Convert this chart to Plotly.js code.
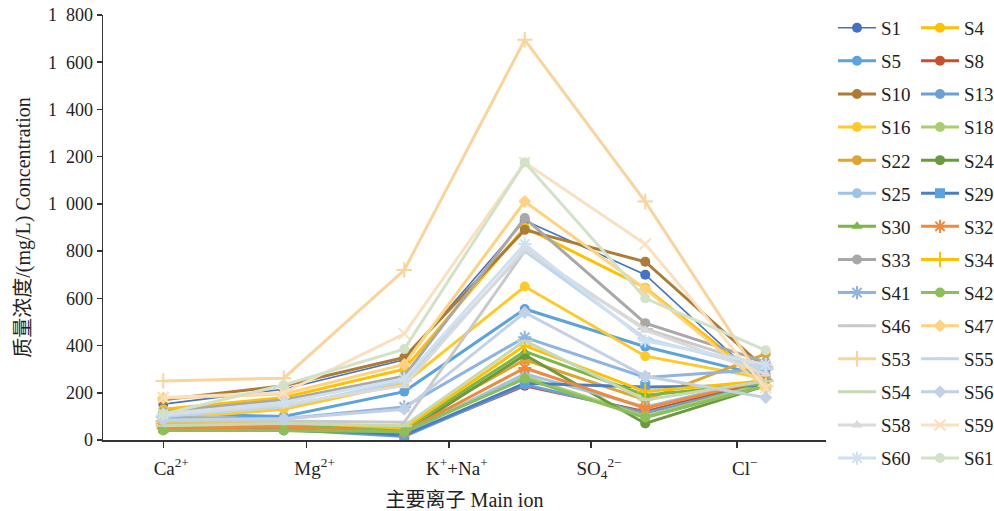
<!DOCTYPE html>
<html>
<head>
<meta charset="utf-8">
<script src="https://cdn.plot.ly/plotly-3.0.1.min.js"></script>
<style>html,body{margin:0;padding:0;background:#fff;}#chart{width:994px;height:511px;}</style>
</head>
<body>
<div id="chart"></div>
<script>
// six sampled ion slots per series (the axis shows five labels)
const slotCount = 6;
const tickLabels = ['Ca<sup>2+</sup>', 'Mg<sup>2+</sup>', 'K<sup>+</sup>+Na<sup>+</sup>', 'SO<sub>4</sub><sup>2−</sup>', 'Cl<sup>−</sup>'];
const tickSlots = [0, 1.19, 2.37, 3.55, 4.76];
const yTickValues = [0, 200, 400, 600, 800, 1000, 1200, 1400, 1600, 1800];
const yTickLabels = ['0', '200', '400', '600', '800', '1\u2002000', '1\u2002200', '1\u2002400', '1\u2002600', '1\u2002800'];

const seriesNames = ['S1','S4','S5','S8','S10','S13','S16','S18','S22','S24','S25','S29','S30','S32','S33','S34','S41','S42','S46','S47','S53','S55','S54','S56','S58','S59','S60','S61'];

const S1  = [152, 215, 340, 930, 700, 230];
const S4  = [130, 180, 300, 900, 645, 240];
const S5  = [110, 100, 205, 555, 395, 270];
const S8  = [60, 50, 20, 230, 120, 250];
const S10 = [170, 230, 350, 890, 755, 300];
const S13 = [55, 45, 15, 235, 115, 240];
const S16 = [90, 130, 240, 650, 355, 260];
const S18 = [50, 45, 40, 270, 100, 240];
const S22 = [75, 70, 55, 340, 170, 365];
const S24 = [45, 40, 30, 360, 70, 230];
const S25 = [65, 60, 25, 280, 140, 260];
const S29 = [50, 55, 20, 240, 225, 230];
const S30 = [55, 60, 45, 375, 190, 240];
const S32 = [50, 55, 35, 305, 135, 255];
const S33 = [120, 170, 270, 940, 495, 330];
const S34 = [70, 75, 50, 400, 205, 250];
const S41 = [95, 90, 140, 435, 265, 300];
const S42 = [40, 40, 35, 260, 95, 230];
const S46 = [80, 80, 75, 800, 470, 310];
const S47 = [178, 195, 320, 1010, 640, 220];
const S53 = [250, 262, 720, 1695, 1010, 230];
const S55 = [100, 140, 250, 800, 430, 300];
const S54 = [60, 70, 60, 420, 170, 250];
const S56 = [85, 90, 130, 540, 270, 180];
const S58 = [105, 150, 230, 810, 465, 280];
const S59 = [180, 200, 450, 1175, 830, 220];
const S60 = [110, 160, 260, 830, 420, 320];
const S61 = [110, 233, 385, 1175, 600, 380];

const seriesValues = [S1,S4,S5,S8,S10,S13,S16,S18,S22,S24,S25,S29,S30,S32,S33,S34,S41,S42,S46,S47,S53,S55,S54,S56,S58,S59,S60,S61];

const lineColors = ['#4472C4','#FFC000','#5BA3DD','#C4502C','#AD7B35','#6C9FD6','#FFC928','#A9CF6C','#E0A52E','#6A9A3E','#9EC3E6','#4A7FC6','#7AB648','#F08A3A','#A8A8A8','#FFC000','#8DB4E2','#8CBF5A','#C9C9C9','#FFD27F','#F9D49C','#BDD7EE','#C5D9B5','#C3D0E6','#DADADA','#FBE0BE','#CFE0F0','#D1E2C8'];
const markerColors = ['#4472C4','#FFC000','#5BA3DD','#C4502C','#AD7B35','#6C9FD6','#FFC928','#A9CF6C','#E0A52E','#6A9A3E','#9EC3E6','#5BA3DD','#7AB648','#F08A3A','#A8A8A8','#FFC000','#8DB4E2','#8CBF5A','#C9C9C9','#FFD27F','#F9D49C','#BDD7EE','#C5D9B5','#C3D0E6','#DADADA','#FBE0BE','#CFE0F0','#D1E2C8'];
const symbols = ['circle','circle','circle','circle','circle','circle','circle','circle','circle','circle','circle','square','triangle-up','asterisk-open','circle','cross-thin-open','asterisk-open','circle','line-ew-open','diamond','cross-thin-open','line-ew-open','line-ew-open','diamond','triangle-up','x-thin-open','asterisk-open','circle'];
const lineWidths = [1.6,3,3,3,3,3,3,3,3,3,3,3,3,3,3,3,3,3,3,3,3,3,3,3,3,3,3,3];

const FONT = '"Liberation Serif", "Times New Roman", "Noto Sans CJK SC", serif';

const xs = seriesValues[0].map((v, i) => i);
const traces = seriesNames.map((name, k) => {
  const open = symbols[k].indexOf('open') >= 0;
  return {
    type: 'scatter', mode: 'lines+markers', name: name,
    x: xs, y: seriesValues[k],
    legend: k % 2 === 0 ? 'legend' : 'legend2',
    legendgroup: name,
    line: {color: lineColors[k], width: lineWidths[k]},
    marker: {
      symbol: symbols[k], size: open ? 11 : 10, color: markerColors[k],
      line: {color: markerColors[k], width: open ? 2 : 0}
    }
  };
});

const legendCommon = {
  yanchor: 'top', y: 1.0144, xanchor: 'left',
  font: {family: FONT, size: 19, color: '#222'},
  bgcolor: 'rgba(0,0,0,0)', borderwidth: 0,
  tracegroupgap: 5.4, itemwidth: 38, traceorder: 'grouped',
  maxheight: 560
};

const layout = {
  width: 994, height: 511,
  margin: {l: 103, r: 168, t: 15, b: 71, autoexpand: false},
  paper_bgcolor: '#fff', plot_bgcolor: '#fff',
  font: {family: FONT, size: 16, color: '#222'},
  showlegend: true,
  legend: Object.assign({x: 1.0097}, legendCommon),
  legend2: Object.assign({x: 1.1245}, legendCommon),
  xaxis: {
    range: [-0.5, slotCount - 0.5], showgrid: false, zeroline: false,
    showline: true, linecolor: '#333', linewidth: 1.5,
    ticks: 'outside', ticklen: 6, tickwidth: 1.5, tickcolor: '#333',
    tickmode: 'array', tickvals: tickSlots, ticktext: tickLabels,
    ticklabelshift: 8, ticklabelstandoff: 5,
    tickfont: {family: FONT, size: 19, color: '#222'},
    title: {text: '主要离子 Main ion', font: {family: FONT, size: 20, color: '#222'}, standoff: 13}
  },
  yaxis: {
    range: [0, 1800], showgrid: false, zeroline: false,
    showline: true, linecolor: '#333', linewidth: 1.5,
    ticks: 'outside', ticklen: 5, tickwidth: 1.5, tickcolor: '#333',
    tickmode: 'array', tickvals: yTickValues, ticktext: yTickLabels,
    tickfont: {family: FONT, size: 18, color: '#222'},
    title: {text: '质量浓度/(mg/L) Concentration', font: {family: FONT, size: 20, color: '#222'}, standoff: 12}
  }
};

Plotly.newPlot('chart', traces, layout, {displayModeBar: false, staticPlot: true});
</script>
</body>
</html>
